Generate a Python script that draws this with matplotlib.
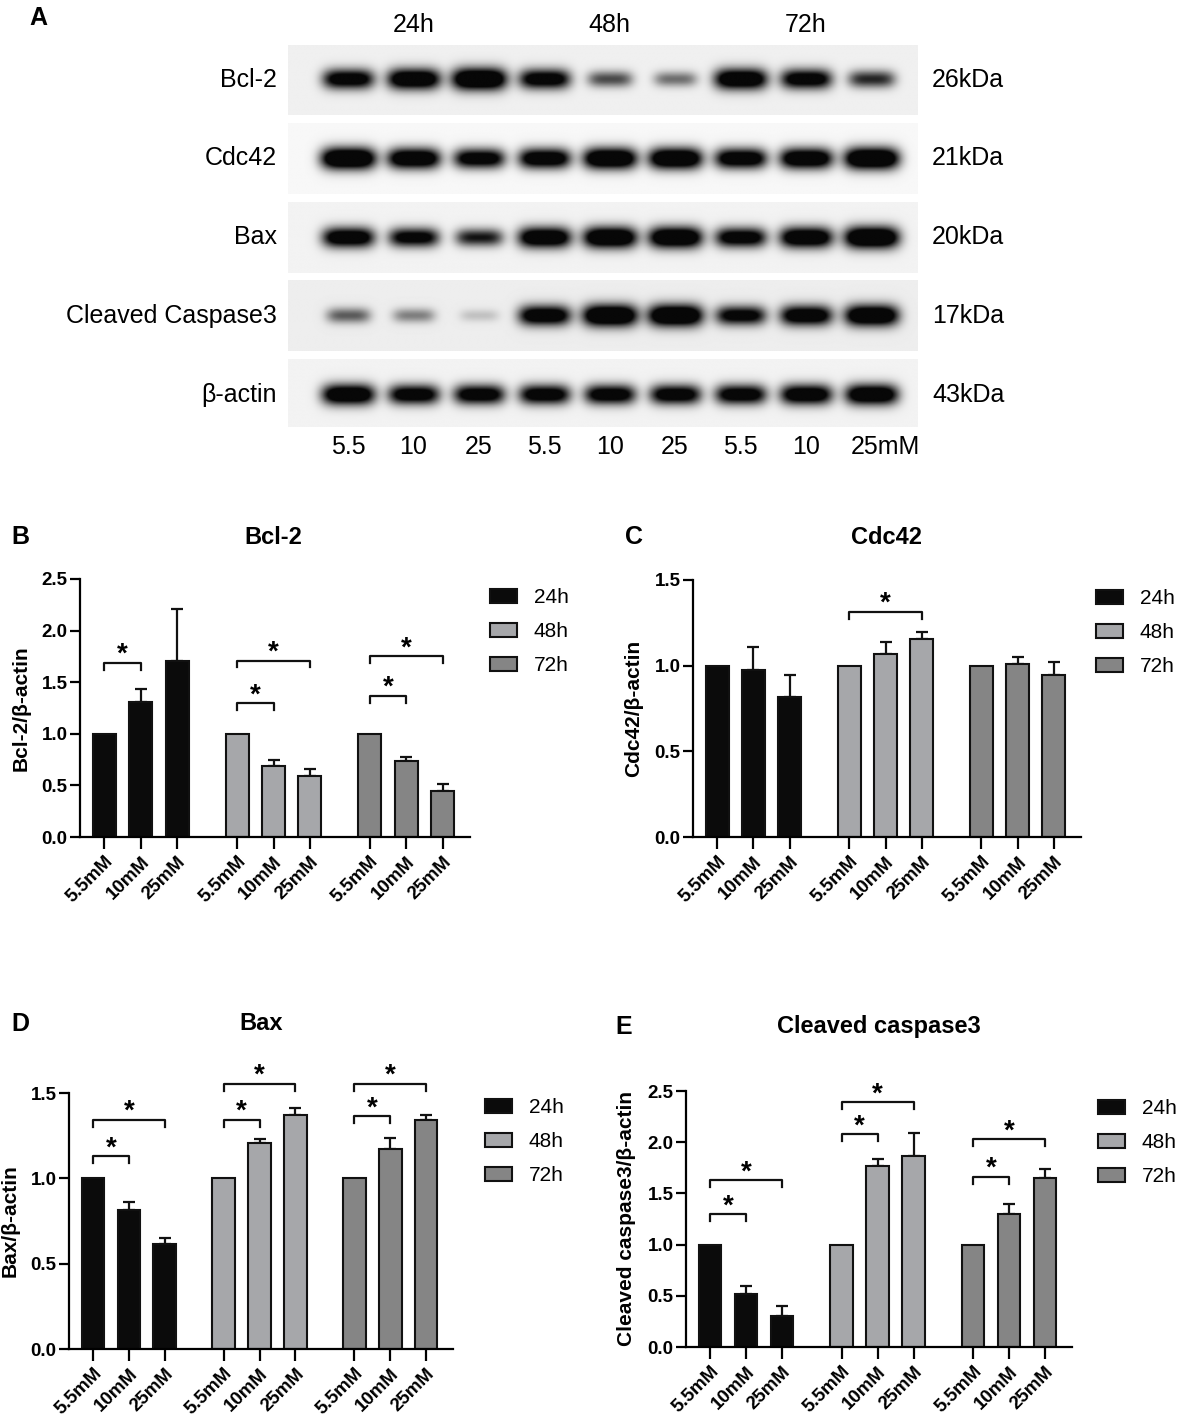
import numpy as np
import matplotlib
matplotlib.use('Agg')
from matplotlib import pyplot as plt
from matplotlib.patches import Patch

plt.rcParams['font.family'] = ['Liberation Sans', 'DejaVu Sans']

W, H = 1181, 1418

# --- panel A: western blot band strengths (0..1, read by eye) ---
blot_rows = ['Bcl-2', 'Cdc42', 'Bax', 'Cleaved Caspase3', 'β-actin']
blot_kda = ['26kDa', '21kDa', '20kDa', '17kDa', '43kDa']
lane_labels = ['5.5', '10', '25', '5.5', '10', '25', '5.5', '10', '25mM']
time_labels = ['24h', '48h', '72h']
band_bcl2 = [0.80, 0.90, 1.00, 0.80, 0.45, 0.35, 0.90, 0.80, 0.55]
band_cdc42 = [1.00, 0.90, 0.80, 0.85, 0.95, 0.95, 0.85, 0.90, 1.00]
band_bax = [0.85, 0.75, 0.60, 0.90, 0.95, 0.95, 0.80, 0.90, 1.00]
band_cc3 = [0.40, 0.30, 0.12, 0.85, 1.00, 1.00, 0.75, 0.85, 0.95]
band_actin = [0.90, 0.80, 0.80, 0.80, 0.80, 0.80, 0.80, 0.85, 0.90]
blot_bg = [0.94, 0.97, 0.95, 0.93, 0.95]

# --- bar charts: mean / upper SEM per time group (5.5, 10, 25 mM) ---
groups = ['24h', '48h', '72h']
conc = ['5.5mM', '10mM', '25mM']
bcl2_mean = [[1.0, 1.31, 1.71], [1.0, 0.69, 0.59], [1.0, 0.74, 0.45]]
bcl2_err = [[0, 0.12, 0.50], [0, 0.06, 0.07], [0, 0.035, 0.06]]
cdc42_mean = [[1.0, 0.975, 0.82], [1.0, 1.068, 1.155], [1.0, 1.01, 0.945]]
cdc42_err = [[0, 0.135, 0.125], [0, 0.072, 0.043], [0, 0.042, 0.076]]
bax_mean = [[1.0, 0.816, 0.615], [1.0, 1.207, 1.371], [1.0, 1.172, 1.34]]
bax_err = [[0, 0.044, 0.037], [0, 0.023, 0.039], [0, 0.066, 0.033]]
cc3_mean = [[1.0, 0.52, 0.30], [1.0, 1.77, 1.864], [1.0, 1.294, 1.653]]
cc3_err = [[0, 0.073, 0.098], [0, 0.062, 0.229], [0, 0.098, 0.084]]

# significance brackets: (group, from bar, to bar, height)
bcl2_sig = [(0, 0, 1, 1.69), (1, 0, 1, 1.30), (1, 0, 2, 1.71), (2, 0, 1, 1.37), (2, 0, 2, 1.75)]
cdc42_sig = [(1, 0, 2, 1.315)]
bax_sig = [(0, 0, 1, 1.129), (0, 0, 2, 1.344), (1, 0, 1, 1.344), (1, 0, 2, 1.555),
           (2, 0, 1, 1.363), (2, 0, 2, 1.555)]
cc3_sig = [(0, 0, 1, 1.294), (0, 0, 2, 1.63), (1, 0, 1, 2.08), (1, 0, 2, 2.39),
           (2, 0, 1, 1.662), (2, 0, 2, 2.027)]

colors = ['#0b0b0b', '#a6a7aa', '#858585']
GAP = 3.65

fig = plt.figure(figsize=(W / 100, H / 100), dpi=100)


def fx(px):
    return px / W


def fy(py):
    return 1 - py / H


# ---------------- panel A ----------------
ax = fig.add_axes([fx(288), fy(427), fx(917 - 288), (427 - 45) / H])
xs = np.linspace(-0.92, 8.7, 700)
ys = np.linspace(-0.45, 0.45, 90)
X, Y = np.meshgrid(xs, ys)
bands = [band_bcl2, band_cdc42, band_bax, band_cc3, band_actin]
for r, row in enumerate(bands):
    dark = np.zeros_like(X)
    for lane, v in enumerate(row):
        wx = 0.28 + 0.14 * v
        wy = 0.07 + 0.07 * v
        prof = np.exp(-(np.abs(X - lane) / wx) ** 4) * np.exp(-(Y / wy) ** 2)
        dark += 1.6 * v * prof
    img = blot_bg[r] - (blot_bg[r] - 0.03) * np.clip(dark, 0, 1)
    ax.imshow(img, extent=(xs[0], xs[-1], r + 0.45, r - 0.45), cmap='gray',
              vmin=0, vmax=1, aspect='auto', interpolation='bilinear')
    ax.text(-1.09, r, blot_rows[r], ha='right', va='center', fontsize=18)
    ax.text(8.93, r, blot_kda[r], ha='left', va='center', fontsize=18)
for i, lab in enumerate(lane_labels):
    ax.text(i + (0.22 if lab.endswith('mM') else 0), 4.66, lab, ha='center', va='center', fontsize=18)
for i, lab in enumerate(time_labels):
    ax.text(1 + 3 * i, -0.70, lab, ha='center', va='center', fontsize=18)
ax.set_xlim(-0.92, 8.7)
ax.set_ylim(4.41, -0.44)
ax.axis('off')
fig.text(fx(38), fy(18), 'A', fontsize=18, fontweight='bold', ha='center', va='center')


# ---------------- bar panels ----------------
def bar_panel(rect, means, errs, sigs, ytop, yticks, ylabel):
    a = fig.add_axes(rect)
    ticks, labels = [], []
    for g in range(3):
        pos = [g * GAP + i for i in range(3)]
        a.bar(pos, means[g], width=0.63, color=colors[g], edgecolor='#111111',
              linewidth=1.5, zorder=2)
        # only bars with a spread get an error bar
        keep = [i for i in range(3) if errs[g][i] > 0]
        a.errorbar([pos[i] for i in keep], [means[g][i] for i in keep],
                   yerr=[[0] * len(keep), [errs[g][i] for i in keep]], fmt='none',
                   ecolor='#111111', elinewidth=1.6, capsize=4.5, capthick=1.6, zorder=1)
        ticks += pos
        labels += conc
    leg = 0.027 * ytop
    for g, i0, i1, h in sigs:
        x0, x1 = g * GAP + i0, g * GAP + i1
        a.plot([x0, x0, x1, x1], [h - leg, h, h, h - leg], color='#111111', lw=1.6,
               clip_on=False)
        a.annotate('*', ((x0 + x1) / 2, h), xytext=(0, 0.5), textcoords='offset points',
                   ha='center', va='baseline', fontsize=20, fontweight='bold',
                   annotation_clip=False)
    a.set_xlim(-0.67, 10.05)
    a.set_ylim(0, ytop)
    a.set_yticks(yticks)
    a.set_yticklabels(['%.1f' % t for t in yticks], fontsize=13.5, fontweight='bold')
    a.set_xticks(ticks)
    a.set_xticklabels(labels, rotation=45, ha='right', rotation_mode='anchor',
                      fontsize=13.5, fontweight='bold')
    a.set_ylabel(ylabel, fontsize=15, fontweight='bold', labelpad=8)
    for s in ['top', 'right']:
        a.spines[s].set_visible(False)
    for s in ['left', 'bottom']:
        a.spines[s].set_linewidth(1.6)
    a.tick_params(axis='x', direction='out', length=8.5, width=1.6, pad=3)
    a.tick_params(axis='y', direction='out', length=7, width=1.6, pad=2)
    return a


def legend_at(px, py):
    handles = [Patch(facecolor=c, edgecolor='#111111', linewidth=1.5) for c in colors]
    fig.legend(handles, groups, loc='upper left', bbox_to_anchor=(fx(px), fy(py)),
               frameon=False, fontsize=15, handlelength=1.3, handleheight=0.65,
               handletextpad=0.8, labelspacing=0.72, borderpad=0, borderaxespad=0)


bar_panel([fx(80), fy(837), fx(470 - 80), (837 - 579) / H], bcl2_mean, bcl2_err, bcl2_sig,
          2.5, [0, 0.5, 1.0, 1.5, 2.0, 2.5], 'Bcl-2/β-actin')
bar_panel([fx(693), fy(837), fx(1081 - 693), (837 - 580) / H], cdc42_mean, cdc42_err, cdc42_sig,
          1.5, [0, 0.5, 1.0, 1.5], 'Cdc42/β-actin')
bar_panel([fx(69), fy(1349), fx(453 - 69), (1349 - 1093) / H], bax_mean, bax_err, bax_sig,
          1.5, [0, 0.5, 1.0, 1.5], 'Bax/β-actin')
bar_panel([fx(686), fy(1347), fx(1072 - 686), (1347 - 1091) / H], cc3_mean, cc3_err, cc3_sig,
          2.5, [0, 0.5, 1.0, 1.5, 2.0, 2.5], 'Cleaved caspase3/β-actin')

legend_at(490, 588)
legend_at(1096, 589)
legend_at(485, 1098)
legend_at(1098, 1099)

# titles and panel letters
for x, y, t in [(273, 537, 'Bcl-2'), (887, 537, 'Cdc42'), (261, 1024, 'Bax'),
                (879, 1027, 'Cleaved caspase3')]:
    fig.text(fx(x), fy(y), t, fontsize=17, fontweight='bold', ha='center', va='center')
for x, y, t in [(20, 537, 'B'), (634, 537, 'C'), (20, 1024, 'D'), (624, 1027, 'E')]:
    fig.text(fx(x), fy(y), t, fontsize=18, fontweight='bold', ha='center', va='center')

fig.savefig('out.png', dpi=100)
